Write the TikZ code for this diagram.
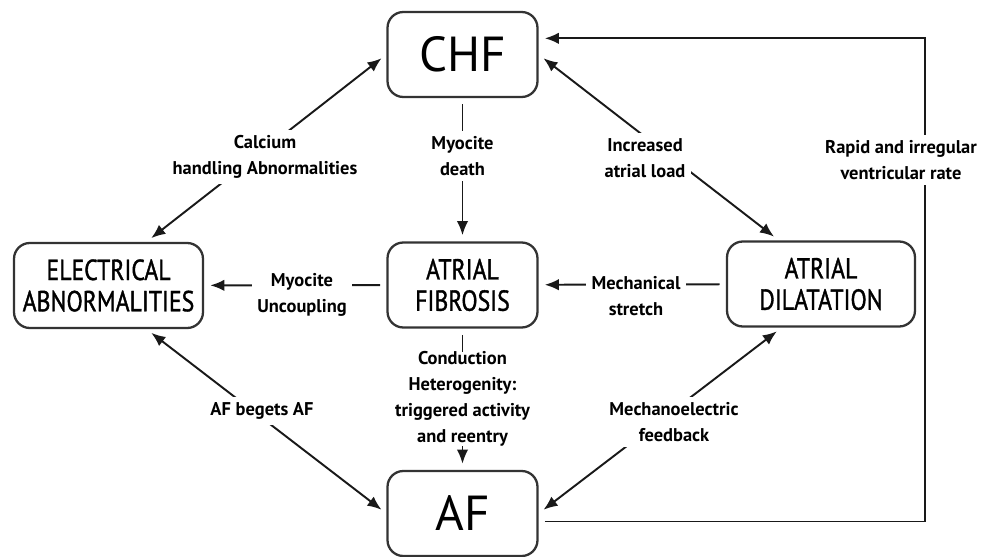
\documentclass[tikz,border=0pt]{standalone}
\usepackage{fontspec}
\setmainfont{PT Sans}
\newfontfamily\boxfont[FakeStretch=0.82,FakeBold=1.2]{PT Sans}
\usetikzlibrary{arrows.meta}

\begin{document}
\begin{tikzpicture}[x=0.02cm,y=-0.02cm,
                    >={Latex[length=8pt,width=6.5pt]},
                    box/.style={draw=black!80,line width=1.3pt,rounded corners=9pt,align=center,inner sep=0pt,minimum height=1.7cm},
                    big box/.style={box,minimum width=3cm,font=\fontsize{28}{30}\selectfont},
                    cap box/.style={box,minimum width=3.78cm,font=\boxfont\fontsize{16.5}{17.8}\selectfont},
                    link/.style={line width=1.1pt,black!90,shorten >=3.5pt,shorten <=3.5pt},
                    note/.style={fill=white,align=center,inner sep=3pt,font=\bfseries\fontsize{10.5}{14.7}\selectfont}
                   ]
  \useasboundingbox (0,0) rectangle (998,557);
  % boxes
  \node[big box] (chf) at (462.5,54.5) {CHF};
  \node[cap box] (elec) at (108.5,285.5) {ELECTRICAL\\ABNORMALITIES};
  \node[cap box,minimum width=3cm] (fib) at (462.5,285) {ATRIAL\\FIBROSIS};
  \node[cap box,minimum width=3.76cm] (dil) at (821,284) {ATRIAL\\DILATATION};
  \node[big box] (af) at (462.5,513.5) {AF};
  \coordinate (rail) at (925,300);
  % connectors
  \path (elec.49) edge[link,<->] (chf.west)
        (chf) edge[link,->] (fib)
        (chf.east) edge[link,<->] (dil.134)
        (fib) edge[link,->] (elec)
        (dil) edge[link,->] (fib)
        (fib) edge[link,->] (af)
        (elec.-49) edge[link,<->] (af.west)
        (af.east) edge[link,<->] (dil.228);
  \draw[link,->] (af.-6) -| (rail) |- (chf.12);
  % labels on the connectors
  \node[note] (calc) at (265,157) {Calcium\\handling Abnormalities};
  \node[note] (death) at (462.5,156) {Myocite\\death};
  \node[note] (load) at (645,158) {Increased\\atrial load};
  \node[note] (rate) at (901,160) {Rapid and irregular\\ventricular rate};
  \node[note] (uncoup) at (302,295) {Myocite\\Uncoupling};
  \node[note] (stretch) at (636,296) {Mechanical\\stretch};
  \node[note,inner sep=0pt] (cond) at (462.5,399) {Conduction\\Heterogenity:\\triggered activity\\and reentry};
  \node[note] (beget) at (262,411) {AF begets AF};
  \node[note] (mech) at (674,422) {Mechanoelectric\\feedback};
\end{tikzpicture}
\end{document}
